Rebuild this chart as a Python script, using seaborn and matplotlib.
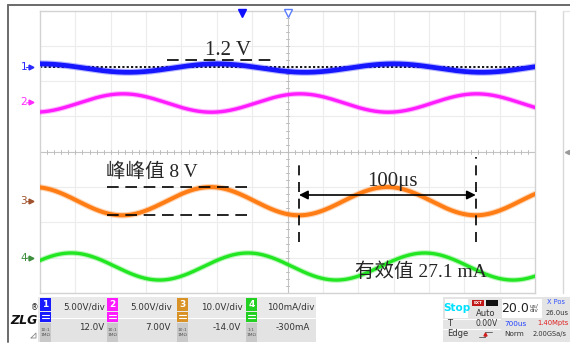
import numpy as np
import pandas as pd
import matplotlib
matplotlib.use("Agg")
import matplotlib.pyplot as plt
import matplotlib.patches as mpatches
import seaborn as sns

# ---- acquisition settings -------------------------------------------------
time_per_div = 20.0          # us / div
h_divs = 14
v_divs = 8
period_us = 100.0            # signal period
trigger_level = 0.0          # V, on channel 1
x_position = -26.0           # us, horizontal position marker

# ---- channels -------------------------------------------------------------
channels = ["1", "2", "3", "4"]
trace_colors = ["#1616ff", "#ff1cff", "#ff7d14", "#22e622"]
label_colors = ["#2a2aff", "#ff2aff", "#a0522d", "#3f8f3f"]
badge_colors = ["#1a1aff", "#ff1aff", "#d99225", "#22d022"]
scales = [5.0, 5.0, 10.0, 100.0]          # per division
scale_labels = ["5.00V/div", "5.00V/div", "10.0V/div", "100mA/div"]
offsets = [12.0, 7.0, -14.0, -300.0]       # channel offset
offset_labels = ["12.0V", "7.00V", "-14.0V", "-300mA"]
probe_labels = ["10:1\n1MΩ", "10:1\n1MΩ", "10:1\n1MΩ", "1:1\n1MΩ"]
dc_levels = [-0.15, -0.1, 0.0, -25.0]
amplitudes = [0.6, 1.3, 4.0, 27.1 * np.sqrt(2)]   # peak values
peak_times = [-40.0, 7.0, -43.5, -22.4]           # us
core_widths = [3.4, 2.4, 2.9, 2.4]

half_t = time_per_div * h_divs / 2
t = np.linspace(-half_t, half_t, 2400)

frames = []
for ch, amp, tp, dc, sc, off in zip(channels, amplitudes, peak_times,
                                     dc_levels, scales, offsets):
    sig = dc + amp * np.cos(2 * np.pi * (t - tp) / period_us)
    frames.append(pd.DataFrame({"t": t, "div": (sig + off) / sc, "ch": ch}))
traces = pd.concat(frames, ignore_index=True)

# ---- figure ---------------------------------------------------------------
sns.set_style("white")
plt.rcParams["font.family"] = ["DejaVu Sans"]
W, H = 570, 347
fig = plt.figure(figsize=(W / 100, H / 100), dpi=100)

# pixel-space layer for the instrument frame and status bar
deco = fig.add_axes([0, 0, 1, 1], zorder=0)
deco.set_xlim(0, W)
deco.set_ylim(H, 0)
deco.axis("off")

L, R, T, B = 40, 535, 10.5, 293
ax = fig.add_axes([L / W, 1 - B / H, (R - L) / W, (B - T) / H], zorder=1)
ax.set_xlim(-half_t, half_t)
ax.set_ylim(-v_divs / 2, v_divs / 2)
ax.set_facecolor("white")
ax.set_xticks([])
ax.set_yticks([])
for s in ax.spines.values():
    s.set_color("#d2d2d2")
    s.set_linewidth(1.0)

px_t = (R - L) / (h_divs * time_per_div)    # pixels per us
px_d = (B - T) / v_divs                     # pixels per division


def t_of(px):
    return (px - (L + R) / 2) / px_t


def d_of(py):
    return ((T + B) / 2 - py) / px_d


# graticule
for k in range(1, h_divs):
    xv = -half_t + k * time_per_div
    ax.axvline(xv, color="#c4c4c4" if abs(xv) < 1e-9 else "#ececec",
               lw=0.8, zorder=0)
for k in range(1, v_divs):
    yv = -v_divs / 2 + k
    ax.axhline(yv, color="#c4c4c4" if abs(yv) < 1e-9 else "#ececec",
               lw=0.8, zorder=0)
for m in np.arange(-half_t, half_t + 0.01, time_per_div / 5):
    ax.plot([m, m], [-0.06, 0.06], color="#bdbdbd", lw=0.7, zorder=0)
for m in np.arange(-v_divs / 2, v_divs / 2 + 0.01, 0.2):
    ax.plot([-1.1, 1.1], [m, m], color="#bdbdbd", lw=0.7, zorder=0)

# trigger level (channel 1)
ax.axhline((trigger_level + offsets[0]) / scales[0], color="black",
           lw=1.3, ls=(0, (1.2, 1.2)), zorder=2)

# waveforms: soft halo plus core line
for ch, col, lw in zip(channels, trace_colors, core_widths):
    sub = traces[traces["ch"] == ch]
    sns.lineplot(data=sub, x="t", y="div", color=col, lw=lw + 1.6,
                 alpha=0.3, ax=ax, sort=False, zorder=3)
    sns.lineplot(data=sub, x="t", y="div", color=col, lw=lw,
                 ax=ax, sort=False, zorder=4)
ax.set_xlabel("")
ax.set_ylabel("")

# channel reference markers on the left
ytr = ax.get_yaxis_transform()
for ch, col, sc, off in zip(channels, label_colors, scales, offsets):
    yd = off / sc
    ax.text(-0.026, yd, ch, transform=ytr, color=col, fontsize=7.5,
            ha="right", va="center", clip_on=False)
    ax.plot([-0.018], [yd], marker=">", ms=3.5, color=col, transform=ytr,
            clip_on=False)
    ax.plot([-0.028, -0.018], [yd - 0.02, yd], color=col, lw=0.7,
            transform=ytr, clip_on=False)

# top markers: horizontal position and trigger point
xtr = ax.get_xaxis_transform()
ax.plot([x_position], [0.992], marker="v", ms=6, color="#1010ff",
        transform=xtr, clip_on=False, zorder=6)
ax.plot([0], [0.992], marker="v", ms=6, mfc="white", mec="#5a7dff",
        mew=1.0, transform=xtr, clip_on=False, zorder=6)

serif_cjk = ["Liberation Serif", "Noto Sans CJK SC"]
dash = (0, (7, 4))

# channel 1 peak-to-peak
pk1 = (dc_levels[0] + amplitudes[0] + offsets[0]) / scales[0]
ax.plot([t_of(167), t_of(275)], [pk1 + 0.12] * 2, color="black", lw=1.2,
        ls=dash, zorder=5)
ax.text(t_of(228), d_of(50), f"{2 * amplitudes[0]:.1f} V", fontsize=15,
        family=serif_cjk, ha="center", va="center", zorder=6)

# channel 3 peak-to-peak
hi3 = (dc_levels[2] + amplitudes[2] + offsets[2]) / scales[2]
lo3 = (dc_levels[2] - amplitudes[2] + offsets[2]) / scales[2]
for yv in (hi3, lo3):
    ax.plot([t_of(107), t_of(247)], [yv, yv], color="black", lw=1.2,
            ls=dash, zorder=5)
ax.text(t_of(106), d_of(172), f"峰峰值 {2 * amplitudes[2]:.0f} V",
        fontsize=14, family=serif_cjk, ha="left", va="center", zorder=6)

# period cursors on channel 3 troughs
c1 = peak_times[2] + period_us / 2
c2 = c1 + period_us
ax.plot([c1, c1], [d_of(242), d_of(162)], color="black", lw=1.2,
        ls=(0, (6, 4)), zorder=5)
ax.plot([c2, c2], [d_of(242), d_of(157)], color="black", lw=1.2,
        ls=(0, (6, 4)), zorder=5)
ax.annotate("", xy=(c2, d_of(195)), xytext=(c1, d_of(195)),
            arrowprops=dict(arrowstyle="<|-|>", color="black", lw=1.2,
                            mutation_scale=13, shrinkA=0, shrinkB=0),
            zorder=6)
ax.text(t_of(392), d_of(181), f"{period_us:.0f}μs", fontsize=15,
        family=serif_cjk, ha="center", va="center", zorder=6)

# channel 4 RMS
rms4 = amplitudes[3] / np.sqrt(2)
ax.text(t_of(355), d_of(272), f"有效值 {rms4:.1f} mA", fontsize=14,
        family=serif_cjk, ha="left", va="center", zorder=6)

# ---- instrument frame -----------------------------------------------------
deco.plot([8, W], [5, 5], color="#6a6a6a", lw=1.4)
deco.plot([8, 8], [5, 342], color="#6a6a6a", lw=1.4)
deco.plot([563, 563], [11, 293], color="#d8d8d8", lw=1.0)
deco.plot([563, W], [11, 11], color="#e4e4e4", lw=1.0)
deco.plot([567], [152], marker="<", ms=3, color="#9a9a9a")

# ---- status bar: channels -------------------------------------------------
deco.add_patch(mpatches.Rectangle((38, 297), 278, 21, color="#e9e9e9", lw=0))
deco.add_patch(mpatches.Rectangle((38, 318.8), 278, 23.5, color="#e3e3e3",
                                  lw=0))
x0s = [40, 107, 177, 246]
for x0, ch, bc, sl, ol, pl in zip(x0s, channels, badge_colors, scale_labels,
                                  offset_labels, probe_labels):
    deco.add_patch(mpatches.Rectangle((x0, 298), 11, 12.5, color=bc, lw=0))
    deco.text(x0 + 5.5, 304.5, ch, color="white", fontsize=6.5,
              fontweight="bold", ha="center", va="center")
    deco.add_patch(mpatches.Rectangle((x0, 311.5), 11, 10, color=bc, lw=0))
    for yy in (315, 318):
        deco.plot([x0 + 2, x0 + 9], [yy, yy], color="white", lw=0.8)
    deco.add_patch(mpatches.Rectangle((x0, 322.5), 11, 19.5, color="#c9c9c9",
                                      lw=0))
    deco.text(x0 + 5.5, 332.5, pl, color="#555555", fontsize=3.2,
              ha="center", va="center", linespacing=1.1)
    deco.text(x0 + 44.5, 307, sl, color="#333333", fontsize=6.3,
              ha="center", va="center")
    deco.text(x0 + 64, 328, ol, color="#333333", fontsize=6.3,
              ha="right", va="center")

# ZLG mark
deco.text(24, 320, "ZLG", fontsize=9, fontweight="bold", style="italic",
          ha="center", va="center", color="#111111")
deco.text(35, 308, "®", fontsize=5.5, ha="center", va="center",
          color="#222222")
deco.plot([31, 36, 36, 31], [338, 333, 338, 338], color="#8a8a8a", lw=0.6)

# ---- status bar: trigger / timebase --------------------------------------
deco.add_patch(mpatches.Rectangle((443, 297), 127, 45, color="#e4e4e4", lw=0))
deco.add_patch(mpatches.Rectangle((445, 298.5), 23, 19, color="white", lw=0))
deco.text(456.5, 308, "Stop", color="#00e0ff", fontsize=7.5,
          fontweight="bold", ha="center", va="center")
deco.add_patch(mpatches.Rectangle((472, 300), 12, 5.5, color="#c01818", lw=0))
deco.text(478, 302.8, "EXT", color="white", fontsize=3, ha="center",
          va="center", fontweight="bold")
deco.add_patch(mpatches.Rectangle((486, 300), 12, 5.5, color="#111111", lw=0))
deco.text(486, 313, "Auto", color="#333333", fontsize=6, ha="center",
          va="center")
deco.plot([443, 500], [318.5, 318.5], color="white", lw=0.8)
deco.plot([443, 500], [328.5, 328.5], color="white", lw=0.8)
deco.text(447, 323.5, "T", color="#333333", fontsize=6, ha="left",
          va="center")
deco.text(498, 324, f"{trigger_level:.2f}V", color="#333333", fontsize=5.5,
          ha="right", va="center")
deco.text(458, 334, "Edge", color="#333333", fontsize=6, ha="center",
          va="center")
deco.plot([479, 485, 485, 492], [337, 337, 332, 332], color="#555555",
          lw=0.6)
deco.plot([485], [333.5], marker="^", ms=2.2, color="#d02020")

deco.add_patch(mpatches.Rectangle((502, 298.5), 40, 19, color="white", lw=0))
deco.text(515, 308, f"{time_per_div:.1f}", color="#222222", fontsize=9,
          ha="center", va="center")
deco.text(534, 308, "us/\ndiv", color="#444444", fontsize=4.2,
          ha="center", va="center", linespacing=0.9)
deco.text(547, 302, "X Pos", color="#3050ff", fontsize=4.8, ha="left",
          va="center")
deco.text(546, 313, f"{-x_position:.1f}us", color="#333333", fontsize=4.9,
          ha="left", va="center")
deco.text(504, 323.5, "700us", color="#2040ff", fontsize=5.2, ha="left",
          va="center")
deco.text(537, 323.5, "1.40Mpts", color="#e02020", fontsize=4.9, ha="left",
          va="center")
deco.text(504, 334, "Norm", color="#333333", fontsize=5.2, ha="left",
          va="center")
deco.text(533, 334, "2.00GSa/s", color="#333333", fontsize=4.8, ha="left",
          va="center")

fig.savefig("out.png", dpi=100)
